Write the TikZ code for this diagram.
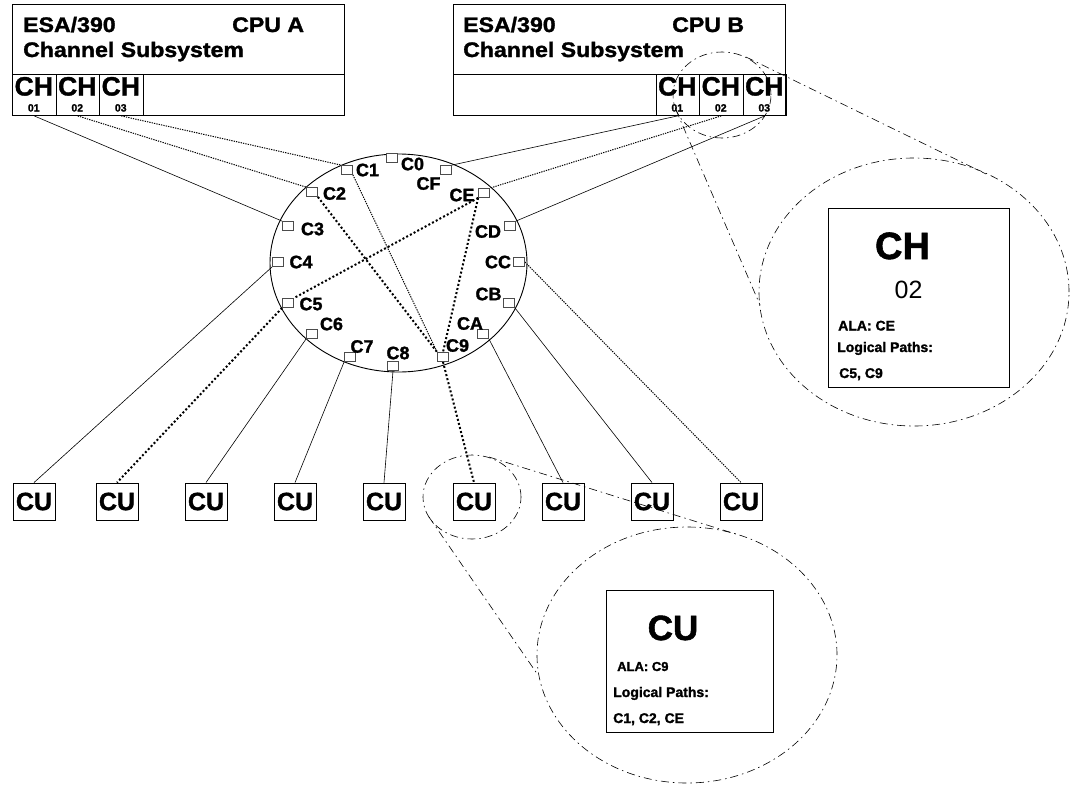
\documentclass[tikz,border=0pt]{standalone}
\usepackage{fontspec}
\setmainfont{Liberation Sans}[BoldFeatures={FakeBold=1.5}]
\newfontfamily\widefont[FakeStretch=1.1,BoldFeatures={FakeBold=1.5}]{Liberation Sans}
\begin{document}
\begin{tikzpicture}[x=1pt,y=-1pt,
  box/.style={draw, line width=0.9pt, inner sep=0pt, anchor=north west},
  cell/.style={draw, line width=0.9pt, minimum width=43.5pt, minimum height=41pt, inner sep=0pt, anchor=north west},
  hdr/.style={inner sep=0pt, anchor=base west, font=\widefont\fontsize{21}{21}\selectfont\bfseries},
  chtext/.style={inner sep=0pt, anchor=base, font=\fontsize{26.5}{26.5}\selectfont\bfseries},
  chnum/.style={inner sep=0pt, anchor=base, font=\fontsize{10.5}{10.5}\selectfont\bfseries},
  port/.style={draw=black!70, fill=white, line width=0.8pt, minimum width=11pt, minimum height=9pt, inner sep=0pt},
  plabel/.style={inner sep=0pt, font=\fontsize{18}{18}\selectfont\bfseries},
  cu/.style={draw, line width=0.9pt, minimum width=42pt, minimum height=37pt, inner sep=0pt, font=\fontsize{25}{25}\selectfont\bfseries},
  link/.style={line width=0.6pt},
  fine/.style={line width=1pt, dash pattern=on 1.3pt off 1.1pt},
  alapath/.style={line width=2pt, dash pattern=on 2pt off 2.2pt},
  zoomline/.style={line width=0.6pt, dash pattern=on 8pt off 4pt on 1.5pt off 4pt},
  info/.style={inner sep=0pt, anchor=base west, font=\fontsize{14}{14}\selectfont\bfseries},
]
\useasboundingbox (0,0) rectangle (1078,790);

% ---- CPU A channel subsystem ----
\node[box, minimum width=332pt, minimum height=111pt] (cpuA) at (12,4) {};
\draw[line width=0.9pt] (12,74) -- (344,74);
\node[hdr] (cpuAt1) at (23,32) {ESA/390};
\node[hdr] (cpuAt2) at (232,32) {CPU A};
\node[hdr] (cpuAt3) at (23,57) {Channel Subsystem};
\node[cell] (chA1) at (12,74) {};
\node[cell] (chA2) at (55.5,74) {};
\node[cell] (chA3) at (99,74) {};
\foreach \c/\x/\n in {A1/33.75/01, A2/77.25/02, A3/120.75/03} {
  \node[chtext] (lab\c) at (\x,95.5) {CH};
  \node[chnum] (num\c) at (\x,111.5) {\n};
}

% ---- CPU B channel subsystem ----
\node[box, minimum width=332pt, minimum height=111pt] (cpuB) at (453,4) {};
\draw[line width=0.9pt] (453,74) -- (785,74);
\node[hdr] (cpuBt1) at (463,32) {ESA/390};
\node[hdr] (cpuBt2) at (672,32) {CPU B};
\node[hdr] (cpuBt3) at (463,57) {Channel Subsystem};
\node[cell] (chB1) at (655.5,74) {};
\node[cell] (chB2) at (699,74) {};
\node[cell] (chB3) at (742.5,74) {};
\foreach \c/\x/\n in {B1/677.25/01, B2/720.75/02, B3/764.25/03} {
  \node[chtext] (lab\c) at (\x,95.5) {CH};
  \node[chnum] (num\c) at (\x,111.5) {\n};
}

% ---- switch ring ----
\draw[line width=0.9pt] (398.5,263) ellipse [x radius=128.5pt, y radius=109pt];

% ports on the ring
\node[port] (C0) at (392,158) {};
\node[port] (C1) at (347,170) {};
\node[port] (C2) at (312,192) {};
\node[port] (C3) at (288,226) {};
\node[port] (C4) at (278,262) {};
\node[port] (C5) at (288,303) {};
\node[port] (C6) at (312,334) {};
\node[port] (C7) at (350,357) {};
\node[port] (C8) at (393,366) {};
\node[port] (C9) at (443,357) {};
\node[port] (CA) at (483,334) {};
\node[port] (CB) at (509,303) {};
\node[port] (CC) at (519,262) {};
\node[port] (CD) at (510,226) {};
\node[port] (CE) at (484,193) {};
\node[port] (CF) at (446,170) {};

% ---- control units ----
\foreach \i/\x in {1/34, 2/117, 3/206, 4/295, 5/384, 6/474, 7/563, 8/652, 9/741} {
  \node[cu] (cu\i) at (\x,501.5) {CU};
}

% ---- channel to port links ----
\draw[link] (chA1.south) -- (C3.north west);
\draw[fine] (chA2.south) -- (C2.north west);
\draw[fine] (chA3.south) -- (C1.north west);
\draw[link] (chB1.south) -- (CF.north east);
\draw[fine] (chB2.south) -- (CE.north east);
\draw[link] (chB3.south) -- (CD.north east);

% ---- dynamic connections through the switch ----
\draw[fine] (C1.south east) -- (C9.north west);
\draw[alapath] (C2.south east) -- (C9.north west);
\draw[alapath] (CE.south west) -- (C5.north east);
\draw[alapath] (CE.south west) -- (C9.north);
\draw[alapath] (C5.south west) -- (cu2.north);
\draw[alapath] (C9.south) -- (cu6.north);

% ---- port to control unit links ----
\draw[link] (C4.south west) -- (cu1.north);
\draw[link] (C6.south west) -- (cu3.north);
\draw[link] (C7.south west) -- (cu4.north);
\draw[link] (C8.south) -- (cu5.north);
\draw[link] (CA.south east) -- (cu7.north);
\draw[link] (CB.south east) -- (cu8.north);
\draw[fine] (CC.east) -- (cu9.north);

% redraw ports above the links
\foreach \p in {C0,C1,C2,C3,C4,C5,C6,C7,C8,C9,CA,CB,CC,CD,CE,CF} {
  \node[port] at (\p) {};
}

% port labels
\node[plabel] (l0) at (412.5,164) {C0};
\node[plabel] (l1) at (367.5,170) {C1};
\node[plabel] (l2) at (334.5,193.5) {C2};
\node[plabel] (l3) at (312.5,229) {C3};
\node[plabel] (l4) at (301,262) {C4};
\node[plabel] (l5) at (311,304) {C5};
\node[plabel] (l6) at (331.5,324) {C6};
\node[plabel] (l7) at (362,346.5) {C7};
\node[plabel] (l8) at (398,353) {C8};
\node[plabel] (l9) at (457.5,345.5) {C9};
\node[plabel] (lA) at (470,323.5) {CA};
\node[plabel] (lB) at (488.5,294) {CB};
\node[plabel] (lC) at (498,262) {CC};
\node[plabel] (lD) at (488,231.5) {CD};
\node[plabel] (lE) at (462,195) {CE};
\node[plabel] (lF) at (428.5,183.5) {CF};

% ---- detail bubble: channel 02 of CPU B ----
\coordinate (chzA) at (746,57);
\coordinate (chzB) at (986,174);
\coordinate (chzC) at (676,110);
\coordinate (chzD) at (760,305);
\draw[zoomline] (722,95) ellipse [x radius=49pt, y radius=43pt];
\draw[zoomline] (914,292) ellipse [x radius=155pt, y radius=134pt];
\draw[zoomline] (chzA) -- (chzB);
\draw[zoomline] (chzC) -- (chzD);
\node[box, minimum width=181pt, minimum height=179pt] (chbig) at (828,208) {};
\node[inner sep=0pt, anchor=base, font=\fontsize{38}{38}\selectfont\bfseries] (chbigt) at (902.5,259) {CH};
\node[inner sep=0pt, anchor=base, font=\fontsize{25}{25}\selectfont] (chbign) at (908.5,298) {02};
\node[info] (chala) at (838,330.5) {ALA: CE};
\node[info] (chlp) at (837,352) {Logical Paths:};
\node[info] (chlpv) at (839,378) {C5, C9};

% ---- detail bubble: control unit ----
\coordinate (cuzA) at (489,457);
\coordinate (cuzB) at (739,535);
\coordinate (cuzC) at (429,517);
\coordinate (cuzD) at (538,675);
\draw[zoomline] (472,497) ellipse [x radius=49pt, y radius=42pt];
\draw[zoomline] (687,655) ellipse [x radius=150pt, y radius=128pt];
\draw[zoomline] (cuzA) -- (cuzB);
\draw[zoomline] (cuzC) -- (cuzD);
\node[box, fill=white, minimum width=167pt, minimum height=142pt] (cubig) at (606,590) {};
\node[inner sep=0pt, anchor=base, font=\fontsize{35}{35}\selectfont\bfseries] (cubigt) at (673,640) {CU};
\node[info, font=\fontsize{13}{13}\selectfont\bfseries] (cuala) at (617,671) {ALA: C9};
\node[info] (culp) at (613,697) {Logical Paths:};
\node[info] (culpv) at (613,723) {C1, C2, CE};
\end{tikzpicture}
\end{document}
